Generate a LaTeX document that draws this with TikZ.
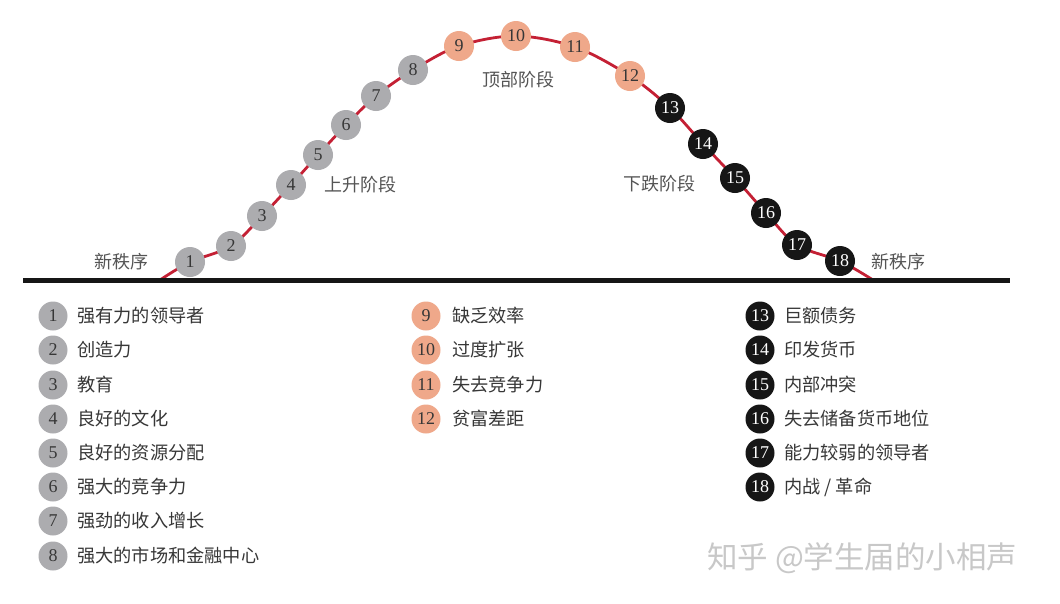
\documentclass[tikz,border=0pt]{standalone}
\usepackage{fontspec}
\setmainfont{Liberation Serif}
\newfontfamily\cjk{Noto Sans CJK SC}
\definecolor{curvered}{RGB}{196,32,52}
\definecolor{cgray}{RGB}{172,172,175}
\definecolor{csalmon}{RGB}{239,168,138}
\definecolor{cblack}{RGB}{22,22,22}
\definecolor{txt}{RGB}{55,55,55}
\definecolor{stagetxt}{RGB}{85,85,85}
\definecolor{wm}{RGB}{200,200,200}
\begin{document}
\begin{tikzpicture}[x=1pt,y=-1pt,
  dot/.style={circle,minimum size=30pt,inner sep=0pt,font=\fontsize{18}{18}\selectfont},
  gdot/.style={dot,fill=cgray,text=txt},
  sdot/.style={dot,fill=csalmon,text=txt},
  bdot/.style={dot,fill=cblack,text=white},
  ldot/.style={minimum size=29pt},
  item/.style={anchor=west,inner sep=0pt,text=txt,font=\cjk\fontsize{18.2}{18}\selectfont},
  stage/.style={inner sep=0pt,text=stagetxt,font=\cjk\fontsize{18}{18}\selectfont}]
\useasboundingbox (0,0) rectangle (1060,603);
\fill[white] (0,0) rectangle (1060,603);
% curve points
\coordinate (s) at (160,280);
\coordinate (p1) at (190,262);
\coordinate (p2) at (231,246);
\coordinate (p3) at (262,216);
\coordinate (p4) at (291,185);
\coordinate (p5) at (318,155);
\coordinate (p6) at (346,125);
\coordinate (p7) at (376,96);
\coordinate (p8) at (413,70);
\coordinate (p9) at (459,46);
\coordinate (p10) at (516,36);
\coordinate (p11) at (575,47);
\coordinate (p12) at (630,76);
\coordinate (p13) at (670,108);
\coordinate (p14) at (703,144);
\coordinate (p15) at (735,178);
\coordinate (p16) at (766,213);
\coordinate (p17) at (797,245);
\coordinate (p18) at (840,261);
\coordinate (e) at (873,280);
\draw[curvered,line width=2.8pt] plot[smooth,tension=0.55] coordinates {(s) (p1) (p2) (p3) (p4) (p5) (p6) (p7) (p8) (p9) (p10) (p11) (p12) (p13) (p14) (p15) (p16) (p17) (p18) (e)};
% baseline
\coordinate (bl) at (23,280);
\coordinate (br) at (1010,280);
\draw[cblack,line width=5pt] (bl) -- (br);
% curve nodes
\foreach \i in {1,...,8} {\node[gdot] (n\i) at (p\i) {\i};}
\foreach \i in {9,...,12} {\node[sdot] (n\i) at (p\i) {\i};}
\foreach \i in {13,...,18} {\node[bdot] (n\i) at (p\i) {\i};}
% stage labels
\node[stage] (lnew1) at (121,262) {新秩序};
\node[stage] (lup) at (360,185) {上升阶段};
\node[stage] (ltop) at (518,80) {顶部阶段};
\node[stage] (ldown) at (659,184) {下跌阶段};
\node[stage] (lnew2) at (898,262) {新秩序};
% legend column 1
\foreach \i/\t/\y in {1/强有力的领导者/316,2/创造力/350,3/教育/385,4/良好的文化/419,5/良好的资源分配/453,6/强大的竞争力/487,7/强劲的收入增长/521,8/强大的市场和金融中心/556} {
  \node[gdot,ldot] (a\i) at (53,\y) {\i};
  \node[item] (t\i) at (77,\y) {\t};
}
% legend column 2
\foreach \i/\t/\y in {9/缺乏效率/316,10/过度扩张/350,11/失去竞争力/385,12/贫富差距/419} {
  \node[sdot,ldot] (a\i) at (426,\y) {\i};
  \node[item] (t\i) at (452,\y) {\t};
}
% legend column 3
\foreach \i/\t/\y in {13/巨额债务/316,14/印发货币/350,15/内部冲突/385,16/失去储备货币地位/419,17/能力较弱的领导者/453,18/{内战 / 革命}/487} {
  \node[bdot,ldot] (a\i) at (760,\y) {\i};
  \node[item] (t\i) at (784,\y) {\t};
}
% watermark
\node[anchor=west,inner sep=0pt,text=wm,font=\cjk\fontsize{30.5}{30}\selectfont] (wmk) at (707,558) {知乎 @学生届的小相声};
\end{tikzpicture}
\end{document}
